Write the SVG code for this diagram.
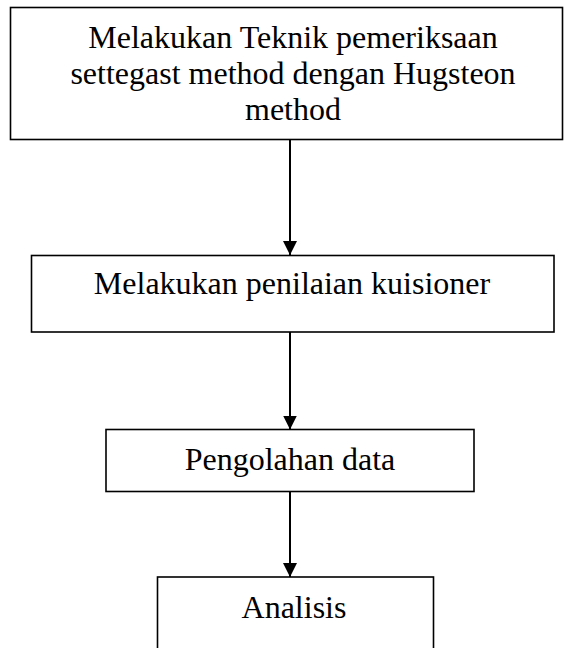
<svg xmlns="http://www.w3.org/2000/svg" width="564" height="648" viewBox="0 0 564 648">
<style>
.box{fill:#fff;stroke:#000;stroke-width:1.6}
.lbl{font-family:"Liberation Serif","Times New Roman",serif;font-size:32px;fill:#000;text-anchor:middle}
.conn{stroke:#000;stroke-width:2;fill:none}
</style>
<defs>
<marker id="ah" markerUnits="userSpaceOnUse" markerWidth="14" markerHeight="16" refX="14" refY="7" orient="auto">
<path d="M0,0 L14,7 L0,14 Z" fill="#000"/>
</marker>
</defs>
<rect width="564" height="648" fill="#fff"/>
<g id="connectors">
<line class="conn" x1="290" y1="140" x2="290" y2="255" marker-end="url(#ah)"/>
<line class="conn" x1="290" y1="332" x2="290" y2="429.5" marker-end="url(#ah)"/>
<line class="conn" x1="290" y1="492" x2="290" y2="577" marker-end="url(#ah)"/>
</g>
<g id="node1">
<rect class="box" x="10.5" y="7.5" width="552" height="132"/>
<text class="lbl" x="293" y="47.5">Melakukan Teknik pemeriksaan</text>
<text class="lbl" x="293" y="83.5">settegast method dengan Hugsteon</text>
<text class="lbl" x="293" y="119.5">method</text>
</g>
<g id="node2">
<rect class="box" x="31.5" y="255.5" width="522.5" height="76.5"/>
<text class="lbl" x="292" y="294">Melakukan penilaian kuisioner</text>
</g>
<g id="node3">
<rect class="box" x="106" y="429.5" width="368" height="62"/>
<text class="lbl" x="290" y="470">Pengolahan data</text>
</g>
<g id="node4">
<rect class="box" x="157.5" y="577" width="276" height="90"/>
<text class="lbl" x="294" y="618">Analisis</text>
</g>
</svg>
